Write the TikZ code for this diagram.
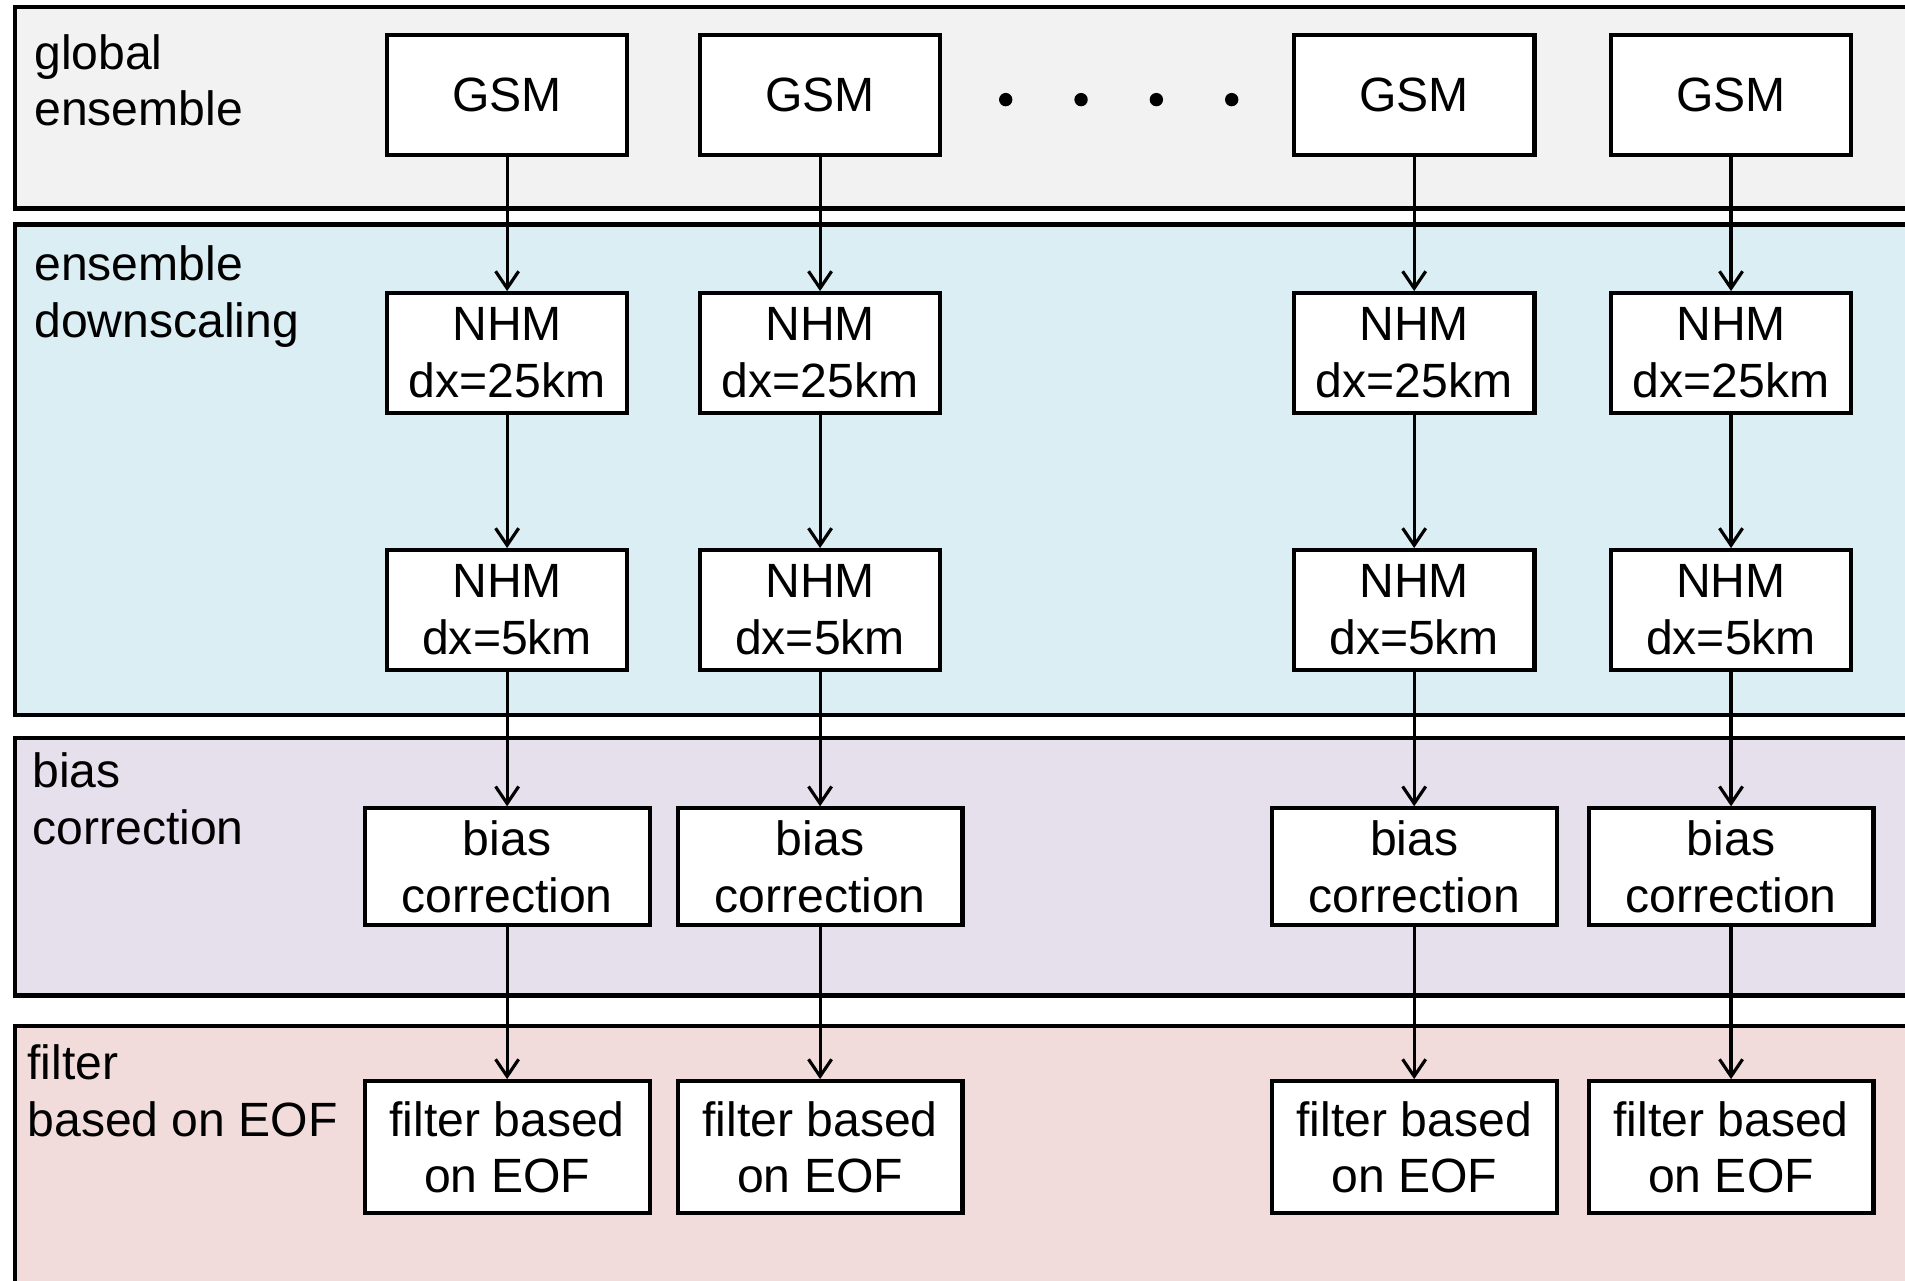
\documentclass[tikz,border=0pt]{standalone}
\usepackage{fontspec}
\setmainfont{Liberation Sans}
\usetikzlibrary{arrows.meta}
\definecolor{pgray}{HTML}{F2F2F2}
\definecolor{pblue}{HTML}{DAEEF3}
\definecolor{plav}{HTML}{E5E0EC}
\definecolor{ppink}{HTML}{F2DCDB}
\newcommand\bigfs{\fontsize{39.6pt}{46.8pt}\selectfont}
\tikzset{
  panel/.style={draw=black, line width=3.8pt},
  plabel/.style={anchor=north west, align=left, font=\bigfs, inner sep=0pt},
  box/.style={draw=black, fill=white, line width=3.4pt, align=center, font=\bigfs, inner sep=0pt},
  nbox/.style={box, minimum width=198pt, minimum height=98.4pt},
  wbox/.style={box, minimum width=234.5pt, minimum height=96.3pt},
  fbox/.style={box, minimum width=234.5pt, minimum height=108.8pt},
  arr/.style={draw=black, line width=2.6pt, -{Straight Barb[length=14pt,width=19pt,line width=2.6pt]}},
  dot/.style={circle, fill=black, inner sep=0pt, minimum size=11pt}
}
\begin{document}
\begin{tikzpicture}[x=1pt,y=-1pt]
\useasboundingbox (0,0) rectangle (1568,1054);
\fill[white] (0,0) rectangle (1568,1054);
\clip (0,0) rectangle (1568,1054);
% panels
\draw[panel, fill=pgray] (12.3,5.8) rectangle (1620,171.8);
\draw[panel, fill=pblue] (12.3,184.6) rectangle (1620,588.4);
\draw[panel, fill=plav] (12.3,607.5) rectangle (1620,819.2);
\draw[panel, fill=ppink] (12.3,844.4) rectangle (1620,1120);
% panel labels
\node[plabel] (l1) at (28,28) {global\\ensemble};
\node[plabel] (l2) at (28,202.3) {ensemble\\downscaling};
\node[plabel] (l3) at (26.5,619) {bias\\correction};
\node[plabel] (l4) at (22.5,859.5) {filter\\based on EOF};
% columns
\foreach \i/\cx in {1/417.4, 2/675, 3/1164, 4/1424.8} {
  \node[nbox] (g\i) at (\cx,78.2) {GSM};
  \node[nbox] (a\i) at (\cx,290.5) {NHM\\dx=25km};
  \node[nbox] (b\i) at (\cx,502) {NHM\\dx=5km};
  \node[wbox] (c\i) at (\cx,713.5) {bias\\correction};
  \node[fbox] (f\i) at (\cx,944.3) {filter based\\on EOF};
  \draw[arr] (g\i.south) -- (a\i.north);
  \draw[arr] (a\i.south) -- (b\i.north);
  \draw[arr] (b\i.south) -- (c\i.north);
  \draw[arr] (c\i.south) -- (f\i.north);
}
% dots
\node[dot] (d1) at (827.8,82) {};
\node[dot] (d2) at (889.8,82) {};
\node[dot] (d3) at (951.8,82) {};
\node[dot] (d4) at (1013.8,82) {};
\end{tikzpicture}
\end{document}
